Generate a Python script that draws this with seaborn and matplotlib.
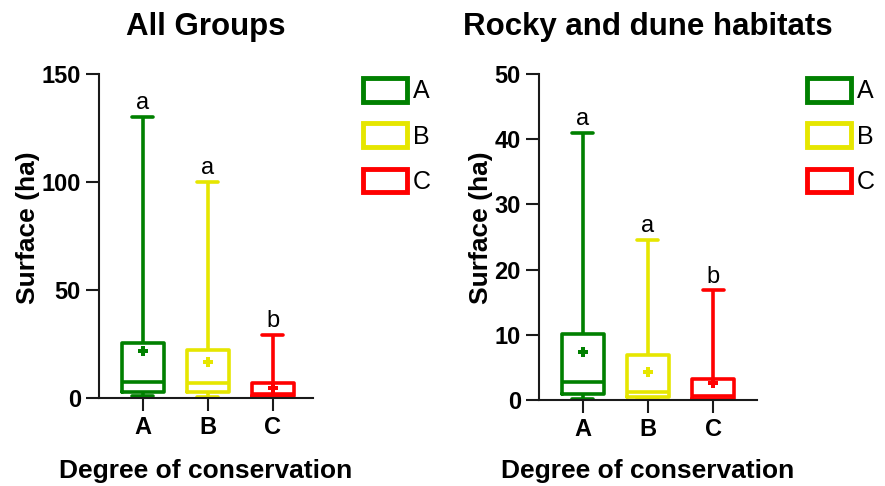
import matplotlib
matplotlib.use("Agg")
import matplotlib.pyplot as plt
from matplotlib.patches import Patch
import pandas as pd
import seaborn as sns

# Conservation degrees and their colours
degrees = ["A", "B", "C"]
colors = ["#008000", "#e6e600", "#ff0000"]

# All groups: five-number summary (ha), mean and significance letters
all_min = [0.8, 0.5, 0.1]
all_q1 = [2.8, 2.5, 1.0]
all_median = [7.4, 6.7, 1.8]
all_q3 = [25.5, 22.1, 6.9]
all_max = [130, 100, 29]
all_mean = [21.6, 16.4, 4.6]
all_letters = ["a", "a", "b"]

# Rocky and dune habitats
rocky_min = [0.15, 0.1, 0.0]
rocky_q1 = [0.9, 0.5, 0.15]
rocky_median = [2.8, 1.3, 0.6]
rocky_q3 = [10.1, 6.9, 3.2]
rocky_max = [41, 24.5, 16.8]
rocky_mean = [7.4, 4.3, 2.6]
rocky_letters = ["a", "a", "b"]


def long_form(mins, q1s, meds, q3s, maxs):
    rows = []
    for d, *vals in zip(degrees, mins, q1s, meds, q3s, maxs):
        for v in vals:
            rows.append((d, v))
    return pd.DataFrame(rows, columns=["Degree", "Surface"])


sns.set_style("ticks")
plt.rcParams["font.family"] = ["Liberation Sans", "DejaVu Sans"]
plt.rcParams.update({
    "axes.edgecolor": "#1a1a1a",
    "axes.linewidth": 1.5,
    "text.color": "black",
    "axes.labelcolor": "black",
    "xtick.color": "#1a1a1a",
    "ytick.color": "#1a1a1a",
    "xtick.labelcolor": "black",
    "ytick.labelcolor": "black",
})

fig = plt.figure(figsize=(8.85, 4.86), dpi=100)
ax1 = fig.add_axes([0.1119, 0.1817, 0.2418, 0.666])
ax2 = fig.add_axes([0.6090, 0.1770, 0.2463, 0.6708])

panels = [
    (ax1, "All Groups", long_form(all_min, all_q1, all_median, all_q3, all_max),
     all_mean, all_max, all_letters, [0, 50, 100, 150], (-0.672, 2.62),
     (363 / 885, 1 - 78 / 486), (-0.276, 0.525), 14.5),
    (ax2, "Rocky and dune habitats",
     long_form(rocky_min, rocky_q1, rocky_median, rocky_q3, rocky_max),
     rocky_mean, rocky_max, rocky_letters, [0, 10, 20, 30, 40, 50], (-0.669, 2.67),
     (807 / 885, 1 - 78 / 486), (-0.211, 0.529), 13.0),
]

for ax, title, df, means, maxs, letters, yticks, xlim, leg_pos, ylab_pos, xpad in panels:
    sns.boxplot(data=df, x="Degree", y="Surface", hue="Degree", order=degrees,
                hue_order=degrees, palette=colors, saturation=1, fill=False,
                width=0.64, whis=(0, 100), linewidth=2.6, legend=False, ax=ax)
    sns.stripplot(x=degrees, y=means, hue=degrees, order=degrees, hue_order=degrees,
                  palette=colors, marker="P", size=7, jitter=False, legend=False,
                  linewidth=0, ax=ax, zorder=5)
    for i, (m, letter) in enumerate(zip(maxs, letters)):
        ax.annotate(letter, xy=(i, m), xytext=(0, 2), textcoords="offset points",
                    ha="center", va="bottom", fontsize=17)

    ax.set_ylim(yticks[0], yticks[-1])
    ax.set_yticks(yticks)
    ax.set_xlim(*xlim)
    sns.despine(ax=ax)
    ax.tick_params(axis="both", length=9.5, width=1.5, labelsize=17)
    for lab in ax.get_xticklabels() + ax.get_yticklabels():
        lab.set_fontweight("bold")

    ax.set_title(title, fontsize=22.5, fontweight="bold", pad=28)
    ax.set_xlabel("Degree of conservation", fontsize=19, fontweight="bold", labelpad=xpad)
    ax.set_ylabel("Surface (ha)", fontsize=19, fontweight="bold")
    ax.yaxis.set_label_coords(*ylab_pos)

    handles = [Patch(facecolor="white", edgecolor=c, linewidth=3.5, label=d)
               for d, c in zip(degrees, colors)]
    ax.legend(handles=handles, loc="upper left", bbox_to_anchor=leg_pos,
              bbox_transform=fig.transFigure, frameon=False, fontsize=18,
              handlelength=1.76, handleheight=1.08, handletextpad=0.25,
              labelspacing=0.8, borderpad=0, borderaxespad=0)

fig.savefig("out.png", dpi=100)
